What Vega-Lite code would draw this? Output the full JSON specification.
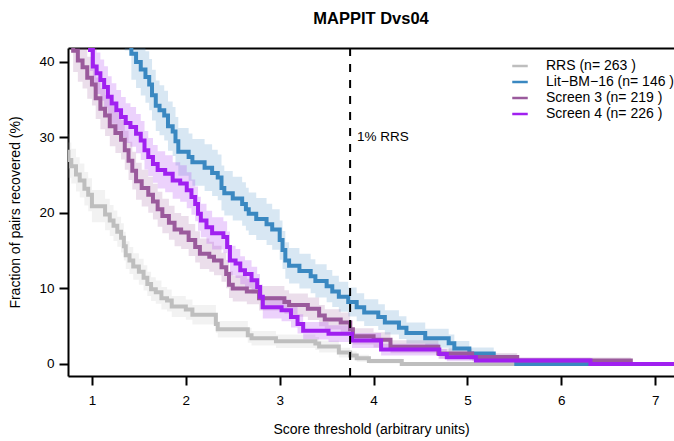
{
  "$schema": "https://vega.github.io/schema/vega-lite/v6.json",
  "width": 606,
  "height": 328,
  "autosize": {"type": "none"},
  "padding": {"left": 68, "top": 48, "right": 0, "bottom": 65},
  "title": {"text": "MAPPIT Dvs04", "font": "Liberation Sans", "fontSize": 16.5, "fontWeight": "bold", "color": "black", "anchor": "middle", "frame": "group", "baseline": "alphabetic", "offset": 7},
  "config": {
    "view": {"stroke": null},
    "font": "Liberation Sans",
    "axis": {"domainColor": "black", "domainWidth": 2, "tickColor": "black", "tickWidth": 2, "tickSize": 9, "labelFont": "Liberation Sans", "labelFontSize": 13.5, "labelColor": "black", "titleFont": "Liberation Sans", "titleFontSize": 14, "titleFontWeight": "normal", "titleColor": "black", "grid": false},
    "legend": {"labelFont": "Liberation Sans", "labelFontSize": 14, "labelColor": "black"}
  },
  "datasets": {
    "curves": [
      {"s": "RRS (n= 263 )", "x": 0.70, "y": 28.1, "lo": 25.75, "hi": 30.45},
      {"s": "RRS (n= 263 )", "x": 0.75, "y": 27.0, "lo": 24.67, "hi": 29.33},
      {"s": "RRS (n= 263 )", "x": 0.78, "y": 26.2, "lo": 23.9, "hi": 28.5},
      {"s": "RRS (n= 263 )", "x": 0.83, "y": 25.1, "lo": 22.83, "hi": 27.37},
      {"s": "RRS (n= 263 )", "x": 0.87, "y": 24.3, "lo": 22.05, "hi": 26.55},
      {"s": "RRS (n= 263 )", "x": 0.92, "y": 23.2, "lo": 20.99, "hi": 25.41},
      {"s": "RRS (n= 263 )", "x": 0.96, "y": 22.4, "lo": 20.21, "hi": 24.59},
      {"s": "RRS (n= 263 )", "x": 1.00, "y": 20.9, "lo": 18.77, "hi": 23.03},
      {"s": "RRS (n= 263 )", "x": 1.14, "y": 19.8, "lo": 17.71, "hi": 21.89},
      {"s": "RRS (n= 263 )", "x": 1.19, "y": 19.0, "lo": 16.95, "hi": 21.05},
      {"s": "RRS (n= 263 )", "x": 1.23, "y": 18.3, "lo": 16.28, "hi": 20.32},
      {"s": "RRS (n= 263 )", "x": 1.27, "y": 17.5, "lo": 15.51, "hi": 19.49},
      {"s": "RRS (n= 263 )", "x": 1.31, "y": 16.7, "lo": 14.75, "hi": 18.65},
      {"s": "RRS (n= 263 )", "x": 1.34, "y": 15.6, "lo": 13.7, "hi": 17.5},
      {"s": "RRS (n= 263 )", "x": 1.36, "y": 14.4, "lo": 12.56, "hi": 16.24},
      {"s": "RRS (n= 263 )", "x": 1.40, "y": 13.7, "lo": 11.9, "hi": 15.5},
      {"s": "RRS (n= 263 )", "x": 1.44, "y": 12.9, "lo": 11.14, "hi": 14.66},
      {"s": "RRS (n= 263 )", "x": 1.50, "y": 12.2, "lo": 10.48, "hi": 13.92},
      {"s": "RRS (n= 263 )", "x": 1.55, "y": 11.4, "lo": 9.73, "hi": 13.07},
      {"s": "RRS (n= 263 )", "x": 1.59, "y": 10.6, "lo": 8.99, "hi": 12.21},
      {"s": "RRS (n= 263 )", "x": 1.63, "y": 9.9, "lo": 8.33, "hi": 11.47},
      {"s": "RRS (n= 263 )", "x": 1.68, "y": 9.5, "lo": 7.96, "hi": 11.04},
      {"s": "RRS (n= 263 )", "x": 1.74, "y": 8.7, "lo": 7.22, "hi": 10.18},
      {"s": "RRS (n= 263 )", "x": 1.80, "y": 8.4, "lo": 6.95, "hi": 9.85},
      {"s": "RRS (n= 263 )", "x": 1.85, "y": 7.6, "lo": 6.21, "hi": 8.99},
      {"s": "RRS (n= 263 )", "x": 2.00, "y": 7.2, "lo": 5.85, "hi": 8.55},
      {"s": "RRS (n= 263 )", "x": 2.07, "y": 6.5, "lo": 5.21, "hi": 7.79},
      {"s": "RRS (n= 263 )", "x": 2.32, "y": 5.3, "lo": 4.13, "hi": 6.47},
      {"s": "RRS (n= 263 )", "x": 2.34, "y": 4.6, "lo": 3.5, "hi": 5.7},
      {"s": "RRS (n= 263 )", "x": 2.66, "y": 3.8, "lo": 2.8, "hi": 4.8},
      {"s": "RRS (n= 263 )", "x": 2.70, "y": 3.4, "lo": 2.45, "hi": 4.35},
      {"s": "RRS (n= 263 )", "x": 2.96, "y": 3.0, "lo": 2.1, "hi": 3.9},
      {"s": "RRS (n= 263 )", "x": 3.38, "y": 2.7, "lo": 1.85, "hi": 3.55},
      {"s": "RRS (n= 263 )", "x": 3.42, "y": 2.3, "lo": 1.51, "hi": 3.09},
      {"s": "RRS (n= 263 )", "x": 3.63, "y": 1.5, "lo": 0.86, "hi": 2.14},
      {"s": "RRS (n= 263 )", "x": 3.75, "y": 1.1, "lo": 0.55, "hi": 1.65},
      {"s": "RRS (n= 263 )", "x": 3.82, "y": 0.76, "lo": 0.3, "hi": 1.22},
      {"s": "RRS (n= 263 )", "x": 3.95, "y": 0.38, "lo": 0.06, "hi": 0.7},
      {"s": "RRS (n= 263 )", "x": 4.30, "y": 0, "lo": 0, "hi": 0},
      {"s": "RRS (n= 263 )", "x": 7.30, "y": 0, "lo": 0, "hi": 0},

      {"s": "Lit\u2212BM\u221216 (n= 146 )", "x": 1.35, "y": 45, "lo": 41.51, "hi": 48.49},
      {"s": "Lit\u2212BM\u221216 (n= 146 )", "x": 1.42, "y": 41.1, "lo": 37.64, "hi": 44.56},
      {"s": "Lit\u2212BM\u221216 (n= 146 )", "x": 1.47, "y": 40.0, "lo": 36.56, "hi": 43.44},
      {"s": "Lit\u2212BM\u221216 (n= 146 )", "x": 1.52, "y": 39.0, "lo": 35.57, "hi": 42.43},
      {"s": "Lit\u2212BM\u221216 (n= 146 )", "x": 1.57, "y": 38.0, "lo": 34.59, "hi": 41.41},
      {"s": "Lit\u2212BM\u221216 (n= 146 )", "x": 1.61, "y": 37.0, "lo": 33.6, "hi": 40.4},
      {"s": "Lit\u2212BM\u221216 (n= 146 )", "x": 1.64, "y": 35.6, "lo": 32.23, "hi": 38.97},
      {"s": "Lit\u2212BM\u221216 (n= 146 )", "x": 1.68, "y": 34.2, "lo": 30.87, "hi": 37.53},
      {"s": "Lit\u2212BM\u221216 (n= 146 )", "x": 1.72, "y": 33.6, "lo": 30.28, "hi": 36.92},
      {"s": "Lit\u2212BM\u221216 (n= 146 )", "x": 1.77, "y": 32.9, "lo": 29.6, "hi": 36.2},
      {"s": "Lit\u2212BM\u221216 (n= 146 )", "x": 1.81, "y": 31.5, "lo": 28.23, "hi": 34.77},
      {"s": "Lit\u2212BM\u221216 (n= 146 )", "x": 1.86, "y": 30.8, "lo": 27.55, "hi": 34.05},
      {"s": "Lit\u2212BM\u221216 (n= 146 )", "x": 1.89, "y": 29.5, "lo": 26.29, "hi": 32.71},
      {"s": "Lit\u2212BM\u221216 (n= 146 )", "x": 1.92, "y": 28.1, "lo": 24.94, "hi": 31.26},
      {"s": "Lit\u2212BM\u221216 (n= 146 )", "x": 2.03, "y": 27.4, "lo": 24.26, "hi": 30.54},
      {"s": "Lit\u2212BM\u221216 (n= 146 )", "x": 2.07, "y": 26.7, "lo": 23.59, "hi": 29.81},
      {"s": "Lit\u2212BM\u221216 (n= 146 )", "x": 2.20, "y": 26.0, "lo": 22.91, "hi": 29.09},
      {"s": "Lit\u2212BM\u221216 (n= 146 )", "x": 2.28, "y": 25.3, "lo": 22.24, "hi": 28.36},
      {"s": "Lit\u2212BM\u221216 (n= 146 )", "x": 2.34, "y": 24.7, "lo": 21.67, "hi": 27.73},
      {"s": "Lit\u2212BM\u221216 (n= 146 )", "x": 2.38, "y": 23.3, "lo": 20.33, "hi": 26.27},
      {"s": "Lit\u2212BM\u221216 (n= 146 )", "x": 2.41, "y": 22.6, "lo": 19.66, "hi": 25.54},
      {"s": "Lit\u2212BM\u221216 (n= 146 )", "x": 2.50, "y": 21.9, "lo": 18.99, "hi": 24.81},
      {"s": "Lit\u2212BM\u221216 (n= 146 )", "x": 2.60, "y": 21.2, "lo": 18.32, "hi": 24.08},
      {"s": "Lit\u2212BM\u221216 (n= 146 )", "x": 2.64, "y": 20.5, "lo": 17.66, "hi": 23.34},
      {"s": "Lit\u2212BM\u221216 (n= 146 )", "x": 2.67, "y": 19.9, "lo": 17.09, "hi": 22.71},
      {"s": "Lit\u2212BM\u221216 (n= 146 )", "x": 2.75, "y": 19.2, "lo": 16.43, "hi": 21.97},
      {"s": "Lit\u2212BM\u221216 (n= 146 )", "x": 2.86, "y": 18.5, "lo": 15.77, "hi": 21.23},
      {"s": "Lit\u2212BM\u221216 (n= 146 )", "x": 2.92, "y": 17.8, "lo": 15.11, "hi": 20.49},
      {"s": "Lit\u2212BM\u221216 (n= 146 )", "x": 3.00, "y": 16.4, "lo": 13.8, "hi": 19.0},
      {"s": "Lit\u2212BM\u221216 (n= 146 )", "x": 3.03, "y": 15.1, "lo": 12.58, "hi": 17.62},
      {"s": "Lit\u2212BM\u221216 (n= 146 )", "x": 3.06, "y": 13.7, "lo": 11.28, "hi": 16.12},
      {"s": "Lit\u2212BM\u221216 (n= 146 )", "x": 3.10, "y": 13.0, "lo": 10.64, "hi": 15.36},
      {"s": "Lit\u2212BM\u221216 (n= 146 )", "x": 3.21, "y": 12.3, "lo": 9.99, "hi": 14.61},
      {"s": "Lit\u2212BM\u221216 (n= 146 )", "x": 3.33, "y": 11.6, "lo": 9.35, "hi": 13.85},
      {"s": "Lit\u2212BM\u221216 (n= 146 )", "x": 3.38, "y": 11.0, "lo": 8.8, "hi": 13.2},
      {"s": "Lit\u2212BM\u221216 (n= 146 )", "x": 3.50, "y": 10.3, "lo": 8.16, "hi": 12.44},
      {"s": "Lit\u2212BM\u221216 (n= 146 )", "x": 3.56, "y": 9.6, "lo": 7.53, "hi": 11.67},
      {"s": "Lit\u2212BM\u221216 (n= 146 )", "x": 3.63, "y": 8.9, "lo": 6.9, "hi": 10.9},
      {"s": "Lit\u2212BM\u221216 (n= 146 )", "x": 3.73, "y": 8.2, "lo": 6.27, "hi": 10.13},
      {"s": "Lit\u2212BM\u221216 (n= 146 )", "x": 3.82, "y": 7.5, "lo": 5.65, "hi": 9.35},
      {"s": "Lit\u2212BM\u221216 (n= 146 )", "x": 3.90, "y": 6.8, "lo": 5.03, "hi": 8.57},
      {"s": "Lit\u2212BM\u221216 (n= 146 )", "x": 4.05, "y": 6.2, "lo": 4.51, "hi": 7.89},
      {"s": "Lit\u2212BM\u221216 (n= 146 )", "x": 4.12, "y": 5.5, "lo": 3.9, "hi": 7.1},
      {"s": "Lit\u2212BM\u221216 (n= 146 )", "x": 4.27, "y": 4.8, "lo": 3.3, "hi": 6.3},
      {"s": "Lit\u2212BM\u221216 (n= 146 )", "x": 4.35, "y": 4.1, "lo": 2.71, "hi": 5.49},
      {"s": "Lit\u2212BM\u221216 (n= 146 )", "x": 4.55, "y": 3.4, "lo": 2.13, "hi": 4.67},
      {"s": "Lit\u2212BM\u221216 (n= 146 )", "x": 4.80, "y": 2.74, "lo": 1.59, "hi": 3.89},
      {"s": "Lit\u2212BM\u221216 (n= 146 )", "x": 4.86, "y": 2.05, "lo": 1.05, "hi": 3.05},
      {"s": "Lit\u2212BM\u221216 (n= 146 )", "x": 5.02, "y": 1.37, "lo": 0.55, "hi": 2.19},
      {"s": "Lit\u2212BM\u221216 (n= 146 )", "x": 5.28, "y": 0.68, "lo": 0.1, "hi": 1.26},
      {"s": "Lit\u2212BM\u221216 (n= 146 )", "x": 5.52, "y": 0, "lo": 0, "hi": 0},
      {"s": "Lit\u2212BM\u221216 (n= 146 )", "x": 7.30, "y": 0, "lo": 0, "hi": 0},

      {"s": "Screen 3 (n= 219 )", "x": 0.70, "y": 45, "lo": 42.15, "hi": 47.85},
      {"s": "Screen 3 (n= 219 )", "x": 0.80, "y": 41.5, "lo": 38.67, "hi": 44.33},
      {"s": "Screen 3 (n= 219 )", "x": 0.85, "y": 40.2, "lo": 37.39, "hi": 43.01},
      {"s": "Screen 3 (n= 219 )", "x": 0.90, "y": 39.3, "lo": 36.5, "hi": 42.1},
      {"s": "Screen 3 (n= 219 )", "x": 0.95, "y": 37.9, "lo": 35.12, "hi": 40.68},
      {"s": "Screen 3 (n= 219 )", "x": 1.00, "y": 37.0, "lo": 34.23, "hi": 39.77},
      {"s": "Screen 3 (n= 219 )", "x": 1.04, "y": 35.2, "lo": 32.46, "hi": 37.94},
      {"s": "Screen 3 (n= 219 )", "x": 1.09, "y": 33.8, "lo": 31.08, "hi": 36.52},
      {"s": "Screen 3 (n= 219 )", "x": 1.14, "y": 32.9, "lo": 30.2, "hi": 35.6},
      {"s": "Screen 3 (n= 219 )", "x": 1.19, "y": 31.5, "lo": 28.83, "hi": 34.17},
      {"s": "Screen 3 (n= 219 )", "x": 1.25, "y": 30.6, "lo": 27.95, "hi": 33.25},
      {"s": "Screen 3 (n= 219 )", "x": 1.31, "y": 29.7, "lo": 27.08, "hi": 32.32},
      {"s": "Screen 3 (n= 219 )", "x": 1.35, "y": 28.3, "lo": 25.72, "hi": 30.88},
      {"s": "Screen 3 (n= 219 )", "x": 1.39, "y": 26.9, "lo": 24.36, "hi": 29.44},
      {"s": "Screen 3 (n= 219 )", "x": 1.43, "y": 25.6, "lo": 23.1, "hi": 28.1},
      {"s": "Screen 3 (n= 219 )", "x": 1.47, "y": 24.2, "lo": 21.74, "hi": 26.66},
      {"s": "Screen 3 (n= 219 )", "x": 1.53, "y": 23.3, "lo": 20.87, "hi": 25.73},
      {"s": "Screen 3 (n= 219 )", "x": 1.60, "y": 22.4, "lo": 20.01, "hi": 24.79},
      {"s": "Screen 3 (n= 219 )", "x": 1.65, "y": 21.5, "lo": 19.14, "hi": 23.86},
      {"s": "Screen 3 (n= 219 )", "x": 1.70, "y": 20.5, "lo": 18.18, "hi": 22.82},
      {"s": "Screen 3 (n= 219 )", "x": 1.75, "y": 19.6, "lo": 17.32, "hi": 21.88},
      {"s": "Screen 3 (n= 219 )", "x": 1.82, "y": 18.7, "lo": 16.46, "hi": 20.94},
      {"s": "Screen 3 (n= 219 )", "x": 1.88, "y": 17.8, "lo": 15.6, "hi": 20.0},
      {"s": "Screen 3 (n= 219 )", "x": 1.95, "y": 17.4, "lo": 15.22, "hi": 19.58},
      {"s": "Screen 3 (n= 219 )", "x": 2.03, "y": 16.4, "lo": 14.28, "hi": 18.52},
      {"s": "Screen 3 (n= 219 )", "x": 2.10, "y": 15.5, "lo": 13.42, "hi": 17.58},
      {"s": "Screen 3 (n= 219 )", "x": 2.15, "y": 14.6, "lo": 12.57, "hi": 16.63},
      {"s": "Screen 3 (n= 219 )", "x": 2.25, "y": 14.2, "lo": 12.2, "hi": 16.2},
      {"s": "Screen 3 (n= 219 )", "x": 2.30, "y": 13.7, "lo": 11.73, "hi": 15.67},
      {"s": "Screen 3 (n= 219 )", "x": 2.38, "y": 12.8, "lo": 10.88, "hi": 14.72},
      {"s": "Screen 3 (n= 219 )", "x": 2.43, "y": 11.9, "lo": 10.04, "hi": 13.76},
      {"s": "Screen 3 (n= 219 )", "x": 2.46, "y": 10.5, "lo": 8.74, "hi": 12.26},
      {"s": "Screen 3 (n= 219 )", "x": 2.50, "y": 10.0, "lo": 8.28, "hi": 11.72},
      {"s": "Screen 3 (n= 219 )", "x": 2.65, "y": 9.6, "lo": 7.91, "hi": 11.29},
      {"s": "Screen 3 (n= 219 )", "x": 2.78, "y": 8.7, "lo": 7.08, "hi": 10.32},
      {"s": "Screen 3 (n= 219 )", "x": 3.05, "y": 8.2, "lo": 6.63, "hi": 9.77},
      {"s": "Screen 3 (n= 219 )", "x": 3.10, "y": 7.8, "lo": 6.26, "hi": 9.34},
      {"s": "Screen 3 (n= 219 )", "x": 3.30, "y": 7.3, "lo": 5.81, "hi": 8.79},
      {"s": "Screen 3 (n= 219 )", "x": 3.42, "y": 6.4, "lo": 4.99, "hi": 7.81},
      {"s": "Screen 3 (n= 219 )", "x": 3.48, "y": 5.9, "lo": 4.55, "hi": 7.25},
      {"s": "Screen 3 (n= 219 )", "x": 3.65, "y": 5.5, "lo": 4.19, "hi": 6.81},
      {"s": "Screen 3 (n= 219 )", "x": 3.75, "y": 4.6, "lo": 3.4, "hi": 5.8},
      {"s": "Screen 3 (n= 219 )", "x": 3.78, "y": 3.65, "lo": 2.57, "hi": 4.73},
      {"s": "Screen 3 (n= 219 )", "x": 4.00, "y": 3.2, "lo": 2.19, "hi": 4.21},
      {"s": "Screen 3 (n= 219 )", "x": 4.18, "y": 2.28, "lo": 1.42, "hi": 3.14},
      {"s": "Screen 3 (n= 219 )", "x": 4.69, "y": 1.37, "lo": 0.7, "hi": 2.04},
      {"s": "Screen 3 (n= 219 )", "x": 5.05, "y": 0.91, "lo": 0.36, "hi": 1.46},
      {"s": "Screen 3 (n= 219 )", "x": 5.53, "y": 0.46, "lo": 0.07, "hi": 0.85},
      {"s": "Screen 3 (n= 219 )", "x": 6.74, "y": 0, "lo": 0, "hi": 0},
      {"s": "Screen 3 (n= 219 )", "x": 7.30, "y": 0, "lo": 0, "hi": 0},

      {"s": "Screen 4 (n= 226 )", "x": 0.90, "y": 45, "lo": 42.19, "hi": 47.81},
      {"s": "Screen 4 (n= 226 )", "x": 0.98, "y": 41.6, "lo": 38.81, "hi": 44.39},
      {"s": "Screen 4 (n= 226 )", "x": 1.01, "y": 39.4, "lo": 36.64, "hi": 42.16},
      {"s": "Screen 4 (n= 226 )", "x": 1.05, "y": 38.5, "lo": 35.75, "hi": 41.25},
      {"s": "Screen 4 (n= 226 )", "x": 1.09, "y": 37.6, "lo": 34.86, "hi": 40.34},
      {"s": "Screen 4 (n= 226 )", "x": 1.13, "y": 36.7, "lo": 33.98, "hi": 39.42},
      {"s": "Screen 4 (n= 226 )", "x": 1.17, "y": 35.4, "lo": 32.7, "hi": 38.1},
      {"s": "Screen 4 (n= 226 )", "x": 1.21, "y": 34.5, "lo": 31.81, "hi": 37.19},
      {"s": "Screen 4 (n= 226 )", "x": 1.26, "y": 33.6, "lo": 30.93, "hi": 36.27},
      {"s": "Screen 4 (n= 226 )", "x": 1.31, "y": 32.7, "lo": 30.05, "hi": 35.35},
      {"s": "Screen 4 (n= 226 )", "x": 1.36, "y": 31.9, "lo": 29.27, "hi": 34.53},
      {"s": "Screen 4 (n= 226 )", "x": 1.41, "y": 31.4, "lo": 28.78, "hi": 34.02},
      {"s": "Screen 4 (n= 226 )", "x": 1.47, "y": 30.5, "lo": 27.9, "hi": 33.1},
      {"s": "Screen 4 (n= 226 )", "x": 1.52, "y": 29.6, "lo": 27.02, "hi": 32.18},
      {"s": "Screen 4 (n= 226 )", "x": 1.56, "y": 28.3, "lo": 25.76, "hi": 30.84},
      {"s": "Screen 4 (n= 226 )", "x": 1.60, "y": 27.4, "lo": 24.88, "hi": 29.92},
      {"s": "Screen 4 (n= 226 )", "x": 1.65, "y": 26.5, "lo": 24.01, "hi": 28.99},
      {"s": "Screen 4 (n= 226 )", "x": 1.70, "y": 25.7, "lo": 23.23, "hi": 28.17},
      {"s": "Screen 4 (n= 226 )", "x": 1.78, "y": 25.2, "lo": 22.75, "hi": 27.65},
      {"s": "Screen 4 (n= 226 )", "x": 1.86, "y": 24.3, "lo": 21.88, "hi": 26.72},
      {"s": "Screen 4 (n= 226 )", "x": 1.94, "y": 23.9, "lo": 21.49, "hi": 26.31},
      {"s": "Screen 4 (n= 226 )", "x": 2.01, "y": 23.0, "lo": 20.62, "hi": 25.38},
      {"s": "Screen 4 (n= 226 )", "x": 2.06, "y": 22.1, "lo": 19.76, "hi": 24.44},
      {"s": "Screen 4 (n= 226 )", "x": 2.10, "y": 21.2, "lo": 18.89, "hi": 23.51},
      {"s": "Screen 4 (n= 226 )", "x": 2.13, "y": 19.9, "lo": 17.65, "hi": 22.15},
      {"s": "Screen 4 (n= 226 )", "x": 2.16, "y": 19.0, "lo": 16.78, "hi": 21.22},
      {"s": "Screen 4 (n= 226 )", "x": 2.22, "y": 18.1, "lo": 15.92, "hi": 20.28},
      {"s": "Screen 4 (n= 226 )", "x": 2.28, "y": 17.3, "lo": 15.16, "hi": 19.44},
      {"s": "Screen 4 (n= 226 )", "x": 2.40, "y": 16.8, "lo": 14.69, "hi": 18.91},
      {"s": "Screen 4 (n= 226 )", "x": 2.44, "y": 15.5, "lo": 13.45, "hi": 17.55},
      {"s": "Screen 4 (n= 226 )", "x": 2.47, "y": 13.7, "lo": 11.76, "hi": 15.64},
      {"s": "Screen 4 (n= 226 )", "x": 2.53, "y": 13.3, "lo": 11.38, "hi": 15.22},
      {"s": "Screen 4 (n= 226 )", "x": 2.58, "y": 12.4, "lo": 10.54, "hi": 14.26},
      {"s": "Screen 4 (n= 226 )", "x": 2.63, "y": 11.9, "lo": 10.07, "hi": 13.73},
      {"s": "Screen 4 (n= 226 )", "x": 2.70, "y": 11.1, "lo": 9.33, "hi": 12.87},
      {"s": "Screen 4 (n= 226 )", "x": 2.76, "y": 10.2, "lo": 8.49, "hi": 11.91},
      {"s": "Screen 4 (n= 226 )", "x": 2.79, "y": 8.9, "lo": 7.29, "hi": 10.51},
      {"s": "Screen 4 (n= 226 )", "x": 2.82, "y": 7.5, "lo": 6.01, "hi": 8.99},
      {"s": "Screen 4 (n= 226 )", "x": 3.02, "y": 7.1, "lo": 5.65, "hi": 8.55},
      {"s": "Screen 4 (n= 226 )", "x": 3.12, "y": 6.2, "lo": 4.84, "hi": 7.56},
      {"s": "Screen 4 (n= 226 )", "x": 3.19, "y": 5.3, "lo": 4.03, "hi": 6.57},
      {"s": "Screen 4 (n= 226 )", "x": 3.25, "y": 4.4, "lo": 3.24, "hi": 5.56},
      {"s": "Screen 4 (n= 226 )", "x": 3.52, "y": 4.0, "lo": 2.89, "hi": 5.11},
      {"s": "Screen 4 (n= 226 )", "x": 3.77, "y": 3.1, "lo": 2.12, "hi": 4.08},
      {"s": "Screen 4 (n= 226 )", "x": 4.08, "y": 1.9, "lo": 1.13, "hi": 2.67},
      {"s": "Screen 4 (n= 226 )", "x": 4.70, "y": 1.33, "lo": 0.68, "hi": 1.98},
      {"s": "Screen 4 (n= 226 )", "x": 4.78, "y": 0.88, "lo": 0.35, "hi": 1.41},
      {"s": "Screen 4 (n= 226 )", "x": 5.09, "y": 0.44, "lo": 0.07, "hi": 0.81},
      {"s": "Screen 4 (n= 226 )", "x": 6.31, "y": 0, "lo": 0, "hi": 0},
      {"s": "Screen 4 (n= 226 )", "x": 7.30, "y": 0, "lo": 0, "hi": 0}
    ],
    "marker": [{"x": 3.75, "y": 30.1, "label": "1% RRS"}]
  },
  "resolve": {"axis": {"x": "independent", "y": "independent"}},
  "layer": [
    {
      "data": {"name": "curves"},
      "mark": {"type": "area", "interpolate": "step-after", "fillOpacity": 0.2, "clip": true},
      "encoding": {
        "x": {"field": "x", "type": "quantitative", "scale": {"domain": [0.745, 7.2], "nice": false, "zero": false}, "axis": {"values": [1, 2, 3, 4, 5, 6, 7], "title": "Score threshold (arbitrary units)", "labelPadding": 8, "titlePadding": 16}},
        "y": {"field": "lo", "type": "quantitative", "stack": null, "scale": {"domain": [-1.6, 41.85], "nice": false, "zero": false}, "axis": {"values": [0, 10, 20, 30, 40], "title": "Fraction of pairs recovered (%)", "labelPadding": 5, "titlePadding": 16}},
        "y2": {"field": "hi"},
        "fill": {"field": "s", "type": "nominal", "scale": {"domain": ["RRS (n= 263 )", "Lit\u2212BM\u221216 (n= 146 )", "Screen 3 (n= 219 )", "Screen 4 (n= 226 )"], "range": ["#BEBEBE", "#3A88C1", "#9A5A9C", "#A020F0"]}, "legend": {"title": null, "orient": "none", "legendX": 443, "legendY": 9, "symbolType": "stroke", "symbolSize": 240, "symbolStrokeWidth": 2.5, "rowPadding": 0, "labelOffset": 17}}
      }
    },
    {
      "data": {"name": "curves"},
      "mark": {"type": "line", "interpolate": "step-after", "strokeWidth": 4, "clip": true},
      "encoding": {
        "x": {"field": "x", "type": "quantitative", "axis": null},
        "y": {"field": "y", "type": "quantitative", "axis": null},
        "stroke": {"field": "s", "type": "nominal", "scale": {"domain": ["RRS (n= 263 )", "Lit\u2212BM\u221216 (n= 146 )", "Screen 3 (n= 219 )", "Screen 4 (n= 226 )"], "range": ["#BEBEBE", "#3A88C1", "#9A5A9C", "#A020F0"]}, "legend": {"title": null, "orient": "none", "legendX": 443, "legendY": 9, "symbolType": "stroke", "symbolSize": 240, "symbolStrokeWidth": 2.5, "rowPadding": 0, "labelOffset": 17}},
        "order": {"field": "x", "type": "quantitative"}
      }
    },
    {
      "data": {"name": "marker"},
      "mark": {"type": "rule", "strokeDash": [8, 8], "strokeWidth": 2, "color": "black"},
      "encoding": {
        "x": {"field": "x", "type": "quantitative", "axis": {"orient": "top", "labels": false, "ticks": false, "title": null, "domainWidth": 2}}
      }
    },
    {
      "data": {"name": "marker"},
      "mark": {"type": "text", "align": "left", "baseline": "middle", "dx": 7, "fontSize": 13.5, "font": "Liberation Sans", "color": "black"},
      "encoding": {
        "x": {"field": "x", "type": "quantitative", "axis": null},
        "y": {"field": "y", "type": "quantitative", "axis": null},
        "text": {"field": "label"}
      }
    }
  ]
}
